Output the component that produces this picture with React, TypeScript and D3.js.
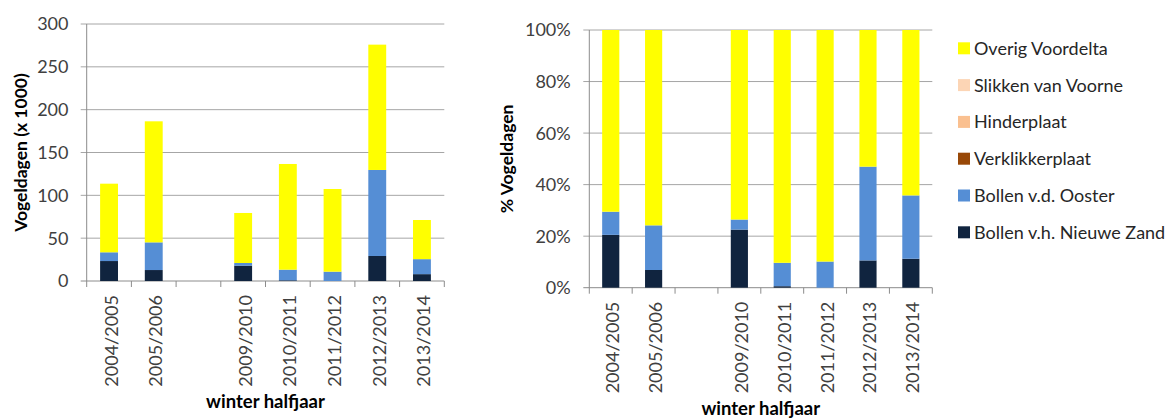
import React from "react";
import * as d3 from "d3";

const categories = ["2004/2005", "2005/2006", "", "2009/2010", "2010/2011", "2011/2012", "2012/2013", "2013/2014"];
const seriesNames = ["Bollen v.h. Nieuwe Zand", "Bollen v.d. Ooster", "Verklikkerplaat", "Hinderplaat", "Slikken van Voorne", "Overig Voordelta"];
const seriesColors = ["#10243F", "#558ED5", "#984807", "#FAC090", "#FCD5B5", "#FFFF00"];
// values x 1000 vogeldagen
const nieuweZand = [23.3, 12.8, 0, 17.9, 0.8, 0, 29.2, 8.0];
const ooster = [10.2, 32.3, 0, 3.1, 12.4, 10.9, 100.4, 17.5];
const verklikkerplaat = [0, 0, 0, 0, 0, 0, 0, 0];
const hinderplaat = [0, 0, 0, 0, 0, 0, 0, 0];
const slikkenVanVoorne = [0, 0, 0, 0, 0, 0, 0, 0];
const overigVoordelta = [80.1, 141.3, 0, 58.4, 123.4, 96.5, 146.3, 45.7];
const leftTicks = [0, 50, 100, 150, 200, 250, 300];
const rightTicks = [0, 0.2, 0.4, 0.6, 0.8, 1.0];

const FONT = "Lato, 'Open Sans', sans-serif";
const GRID = "#a6a6a6";
const AXIS = "#8c8c8c";
const TXT = "#404040";

const seriesData = [nieuweZand, ooster, verklikkerplaat, hinderplaat, slikkenVanVoorne, overigVoordelta];
const rows = categories.map((c, i) => {
  const r: any = { idx: i };
  seriesNames.forEach((s, k) => (r[s] = seriesData[k][i]));
  return r;
});

function Chart({ x0, x1, yTop, yBot, percent, yTitle, yTitleX, labelRight, xTitleY }: any) {
  const x = d3.scaleBand<number>().domain(d3.range(categories.length)).range([x0, x1]).paddingInner(0.6).paddingOuter(0.3);
  const y = d3.scaleLinear().domain(percent ? [0, 1] : [0, 300]).range([yBot, yTop]);
  const stack = d3.stack<any>().keys(seriesNames);
  if (percent) stack.offset(d3.stackOffsetExpand);
  const stacked = stack(rows);
  const ticks = percent ? rightTicks : leftTicks;
  const fmt = percent ? (v: number) => `${Math.round(v * 100)}%` : (v: number) => `${v}`;
  const step = x.step();
  return (
    <g>
      {ticks.map((t) => (
        <g key={t}>
          <line x1={x0 - 6} x2={x1} y1={y(t)} y2={y(t)} stroke={t === 0 ? AXIS : GRID} strokeWidth={1} />
          <text x={labelRight} y={y(t)} dy="0.36em" textAnchor="end" fontFamily={FONT} fontSize={18} fill={TXT}>
            {fmt(t)}
          </text>
        </g>
      ))}
      {stacked.map((layer, k) => (
        <g key={k} fill={seriesColors[k]}>
          {layer.map((d, i) => {
            const a = d[0], b = d[1];
            if (!isFinite(a) || !isFinite(b) || b - a <= 0) return null;
            return <rect key={i} x={x(i)} width={x.bandwidth()} y={y(b)} height={y(a) - y(b)} />;
          })}
        </g>
      ))}
      <line x1={x0} x2={x0} y1={yTop} y2={yBot} stroke={AXIS} />
      {d3.range(categories.length + 1).map((i) => (
        <line key={i} x1={x0 + i * step} x2={x0 + i * step} y1={yBot} y2={yBot + 6} stroke={AXIS} />
      ))}
      {categories.map((c, i) => {
        const cx = (x(i) as number) + x.bandwidth() / 2 + 2;
        return (
          <text key={i} transform={`translate(${cx},${yBot + 14}) rotate(-90)`} dy="0.36em" textAnchor="end" fontFamily={FONT} fontSize={18} fill={TXT}>
            {c}
          </text>
        );
      })}
      <text transform={`translate(${yTitleX},${(yTop + yBot) / 2}) rotate(-90)`} dy="0.36em" textAnchor="middle" fontFamily={FONT} fontWeight="bold" fontSize={17.5} fill="#000">
        {yTitle}
      </text>
      <text x={(x0 + x1) / 2} y={xTitleY} textAnchor="middle" fontFamily={FONT} fontWeight="bold" fontSize={18.5} fill="#000">
        winter halfjaar
      </text>
    </g>
  );
}

export default function App() {
  const legendOrder = d3.range(seriesNames.length).reverse();
  return (
    <svg width={1176} height={419} style={{ position: "absolute", left: 0, top: 0, background: "#fff" }}>
      <rect width={1176} height={419} fill="#fff" />
      <Chart x0={86.7} x1={444.3} yTop={24} yBot={281} percent={false} yTitle="Vogeldagen (x 1000)" yTitleX={21} labelRight={68.5} xTitleY={408} />
      <Chart x0={589.3} x1={932.3} yTop={30} yBot={287.7} percent={true} yTitle="% Vogeldagen" yTitleX={507} labelRight={570.7} xTitleY={414.5} />
      {legendOrder.map((k, j) => {
        const cy = 48.3 + j * 36.8;
        return (
          <g key={k}>
            <rect x={958} y={cy - 6} width={12} height={12} fill={seriesColors[k]} />
            <text x={974} y={cy} dy="0.36em" fontFamily={FONT} fontSize={18} fill="#262626">
              {seriesNames[k]}
            </text>
          </g>
        );
      })}
    </svg>
  );
}
